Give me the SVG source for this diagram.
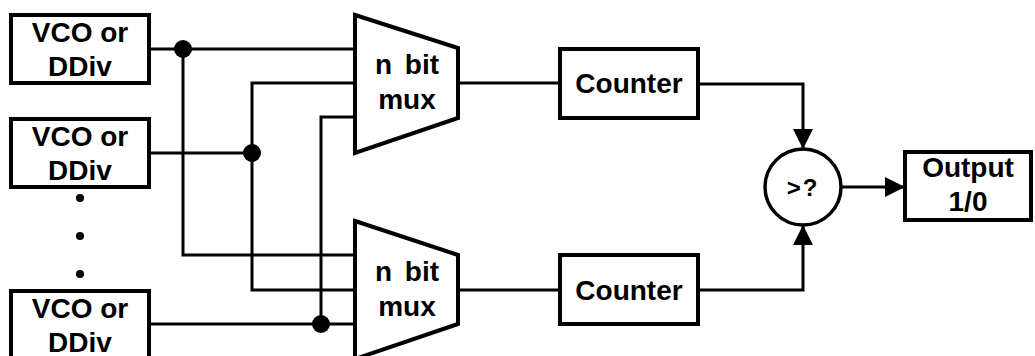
<svg xmlns="http://www.w3.org/2000/svg" width="1035" height="356" viewBox="0 0 1035 356">
  <style>
    .box { fill: #ffffff; stroke: #000000; stroke-width: 4; stroke-linejoin: miter; }
    .wire { fill: none; stroke: #000000; stroke-width: 3; }
    .lbl { font-family: "Liberation Sans", Arial, sans-serif; font-weight: bold; font-size: 28px; fill: #000000; text-anchor: middle; }
    .dot { fill: #000000; }
  </style>
  <defs>
    <marker id="arrow" viewBox="0 0 20 20" refX="19" refY="10" markerWidth="20" markerHeight="20" markerUnits="userSpaceOnUse" orient="auto">
      <path d="M0,0 L20,10 L0,20 Z" fill="#000000"/>
    </marker>
  </defs>
  <rect width="1035" height="356" fill="#ffffff"/>

  <!-- wiring between sources, multiplexers, counters and comparator -->
  <g id="connectors">
    <path class="wire" d="M149,49 H355"/>
    <path class="wire" d="M183,49 V255 H355"/>
    <path class="wire" d="M149,153 H252"/>
    <path class="wire" d="M355,83 H252 V290 H355"/>
    <path class="wire" d="M149,324 H355"/>
    <path class="wire" d="M355,117 H321 V324"/>
    <path class="wire" d="M458,83 H560"/>
    <path class="wire" d="M458,290 H560"/>
    <path class="wire" d="M698,84 H803 V148" marker-end="url(#arrow)"/>
    <path class="wire" d="M698,290 H803 V226" marker-end="url(#arrow)"/>
    <path class="wire" d="M842,187 H904" marker-end="url(#arrow)"/>
    <circle class="dot" cx="183" cy="49" r="9"/>
    <circle class="dot" cx="252" cy="153" r="9"/>
    <circle class="dot" cx="321" cy="324" r="9"/>
  </g>

  <g id="source1">
    <rect class="box" x="11" y="15" width="138" height="68"/>
    <text class="lbl" x="80" y="42">VCO or</text>
    <text class="lbl" x="80" y="76">DDiv</text>
  </g>
  <g id="source2">
    <rect class="box" x="11" y="119" width="138" height="68"/>
    <text class="lbl" x="80" y="146">VCO or</text>
    <text class="lbl" x="80" y="180">DDiv</text>
  </g>
  <g id="ellipsis">
    <circle class="dot" cx="80" cy="198" r="4"/>
    <circle class="dot" cx="80" cy="236" r="4"/>
    <circle class="dot" cx="80" cy="274" r="4"/>
  </g>
  <g id="source3">
    <rect class="box" x="11" y="291" width="138" height="68"/>
    <text class="lbl" x="80" y="318">VCO or</text>
    <text class="lbl" x="80" y="352">DDiv</text>
  </g>

  <g id="mux1">
    <path class="box" d="M355,15 L458,48 L458,118 L355,153 Z"/>
    <text class="lbl" x="407" y="74" word-spacing="5">n bit</text>
    <text class="lbl" x="407" y="109">mux</text>
  </g>
  <g id="mux2">
    <path class="box" d="M355,221 L458,255 L458,324 L355,359 Z"/>
    <text class="lbl" x="407" y="281" word-spacing="5">n bit</text>
    <text class="lbl" x="407" y="316">mux</text>
  </g>

  <g id="counter1">
    <rect class="box" x="560" y="49" width="138" height="69"/>
    <text class="lbl" x="629" y="93">Counter</text>
  </g>
  <g id="counter2">
    <rect class="box" x="560" y="255" width="138" height="69"/>
    <text class="lbl" x="629" y="300">Counter</text>
  </g>

  <g id="comparator">
    <circle class="box" cx="803" cy="187" r="38" style="stroke-width:3.5"/>
    <text class="lbl" x="803" y="196" style="font-size:24px" letter-spacing="2">&gt;?</text>
  </g>

  <g id="output">
    <rect class="box" x="905" y="152" width="126" height="68"/>
    <text class="lbl" x="968" y="177">Output</text>
    <text class="lbl" x="968" y="211">1/0</text>
  </g>
</svg>
